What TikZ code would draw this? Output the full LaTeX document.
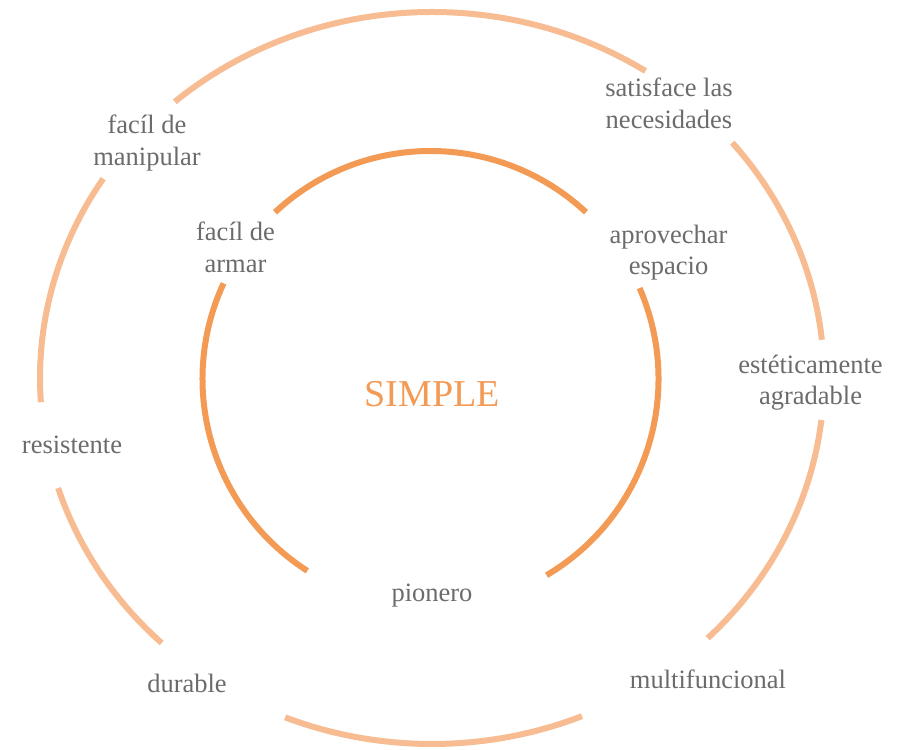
\documentclass[tikz,border=0pt]{standalone}
\usepackage{fontspec}
\setmainfont{Liberation Serif}
\usepackage{xcolor}
\usetikzlibrary{positioning, calc}

\definecolor{ringout}{HTML}{F7BC91}
\definecolor{ringin}{HTML}{F39A55}
\definecolor{labelgray}{HTML}{6B6B6E}

\begin{document}
\begin{tikzpicture}[x=1pt, y=1pt,
    outerarc/.style={draw=ringout, line width=6pt},
    innerarc/.style={draw=ringin, line width=6pt},
    lbl/.style={text=labelgray, inner sep=0pt, align=center,
        font=\fontsize{26.5}{31.5}\selectfont},
    core/.style={text=ringin, inner sep=0pt,
        font=\fontsize{38}{44}\selectfont}]
    \useasboundingbox (0,0) rectangle (901,749);
    \coordinate (co) at (432,371);
    \coordinate (ci) at (430.5,370);

    % outer ring, six pieces
    \foreach \a/\b in {131/57, 40/6, -6.6/-45.3, -67.5/-112,
                       -133.6/-162.5, 183.8/147}
        \draw[outerarc] ($(co)+(\a:392pt and 366pt)$)
            arc[start angle=\a, end angle=\b, x radius=392pt, y radius=366pt];

    % inner ring, three pieces
    \foreach \a/\b in {133/47, 23.5/-59.4, 155.2/237.3}
        \draw[innerarc] ($(ci)+(\a:228pt)$)
            arc[start angle=\a, end angle=\b, radius=228pt];

    \node[core] (simple) at (432,355) {SIMPLE};

    \node[lbl] (armar) at (235.5,501.5) {facíl de\\armar};
    \node[lbl] (espacio) at (668.5,496.5) {aprovechar\\espacio};
    \node[lbl] (pionero) at (432,153) {pionero};

    \node[lbl] (manip) at (147,606) {facíl de\\manipular};
    \node[lbl] (satisf) at (669,645.5) {satisface las\\necesidades};
    \node[lbl] (estet) at (810.5,366.5) {estéticamente\\agradable};
    \node[lbl] (multi) at (708,70) {multifuncional};
    \node[lbl] (durable) at (187,66) {durable};
    \node[lbl] (resist) at (72,304) {resistente};
\end{tikzpicture}
\end{document}
